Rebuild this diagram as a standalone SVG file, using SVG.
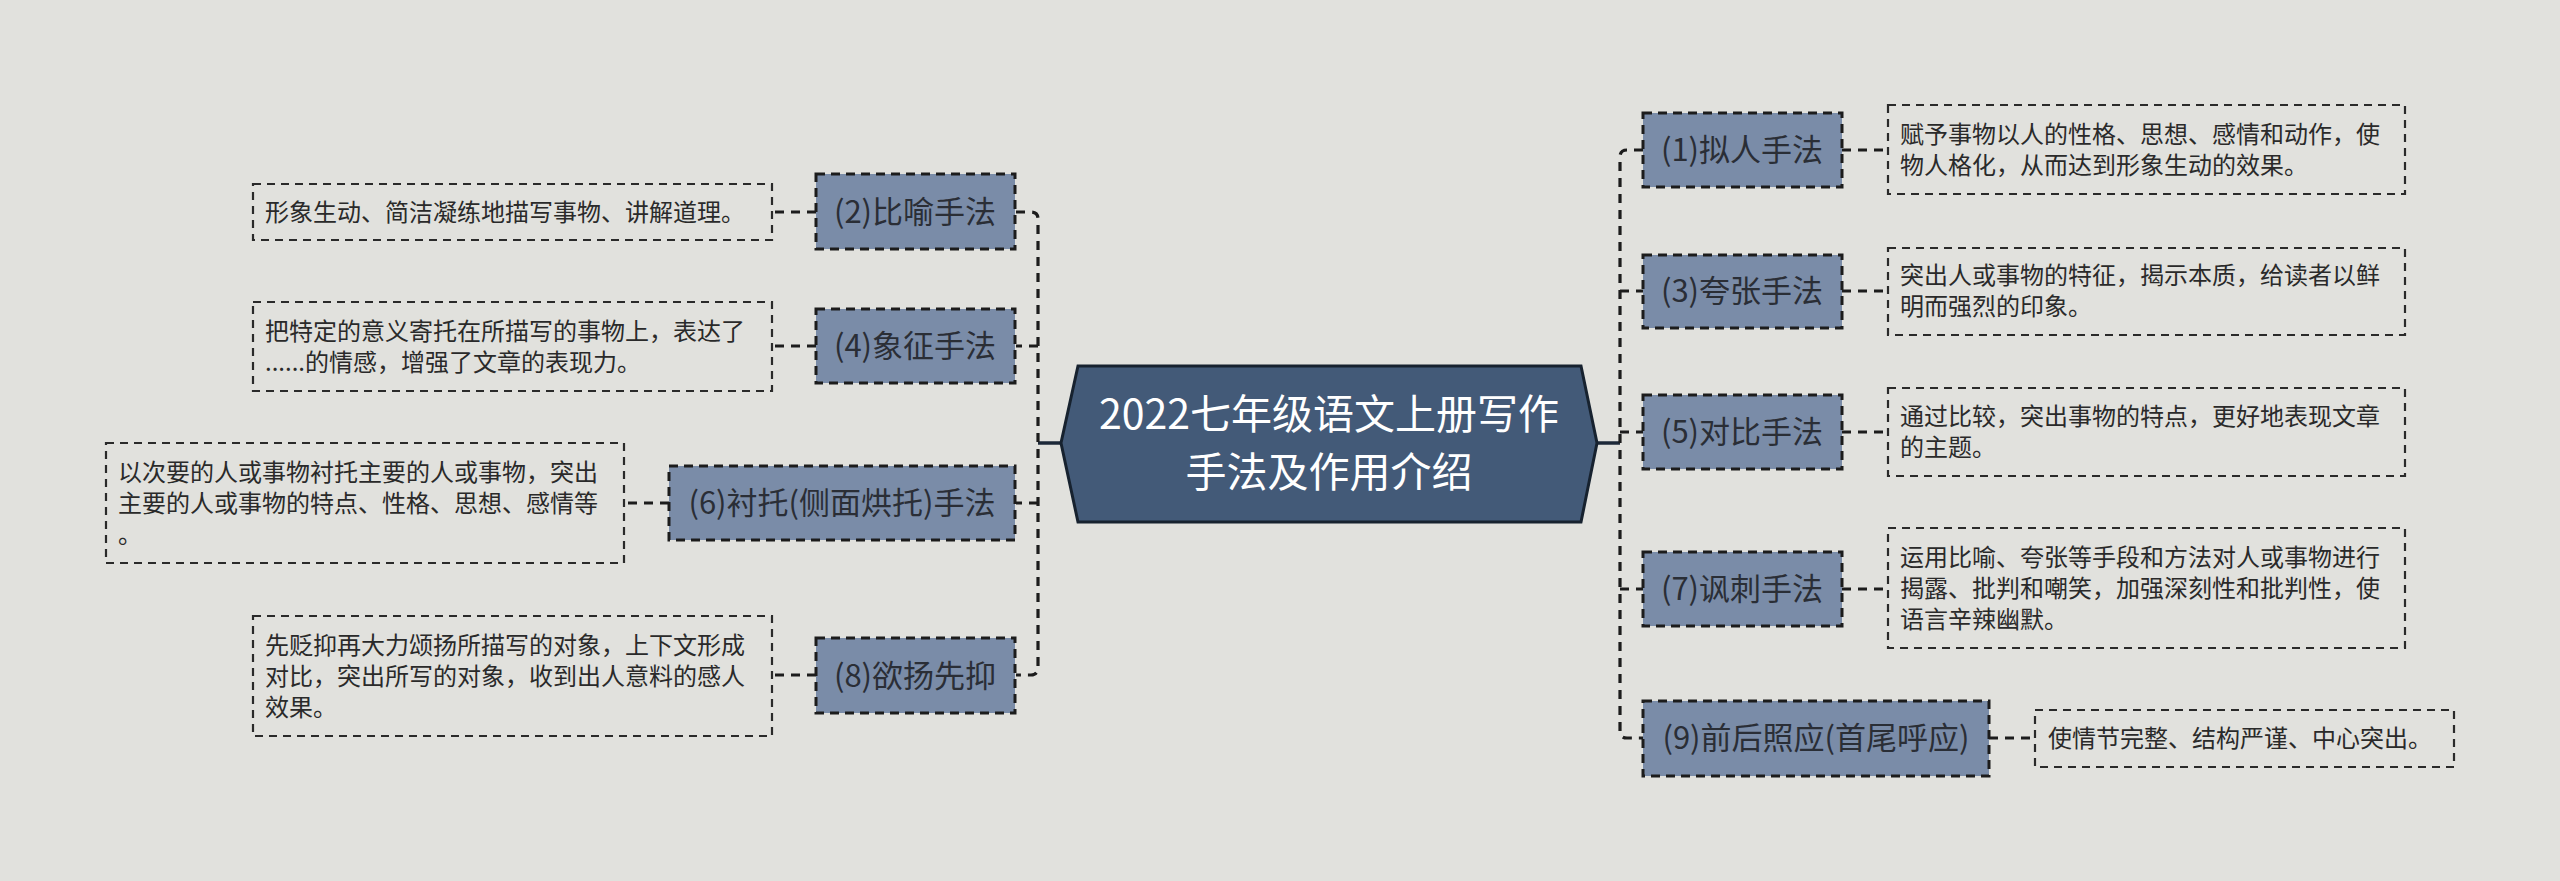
<svg xmlns="http://www.w3.org/2000/svg" width="2560" height="881" viewBox="0 0 2560 881">
<style>
.bg{fill:#e1e1dd}
.lbl{fill:#7a8ca8;stroke:#1c1c1c;stroke-width:3;stroke-dasharray:9 6}
.det{fill:none;stroke:#2a2a2a;stroke-width:2.2;stroke-dasharray:8 6}
.lt{font-family:"Noto Sans CJK SC","Noto Sans",sans-serif;font-size:31px;fill:#2a2e36;text-anchor:middle}
.dt{font-family:"Noto Sans CJK SC","Noto Sans",sans-serif;font-size:24px;fill:#2a2a2a}
.ct{font-family:"Noto Sans CJK SC","Noto Sans",sans-serif;font-size:41px;fill:#ffffff;text-anchor:middle}
.dash{fill:none;stroke:#1c1c1c;stroke-width:3.2;stroke-dasharray:9 7}
.solid{fill:none;stroke:#1c2838;stroke-width:3.5}
</style>
<rect class="bg" x="0" y="0" width="2560" height="881"/>
<g id="connectors">
<path class="solid" d="M1061 443 H1038"/>
<path class="solid" d="M1597 443 H1620"/>
<path class="dash" d="M1016 212 H1031 Q1038 212 1038 219 V667 Q1038 675 1031 675 H1016"/>
<path class="dash" d="M1038 346 H1016"/>
<path class="dash" d="M1038 503 H1016"/>
<path class="dash" d="M1643 150 H1627 Q1620 150 1620 157 V731 Q1620 738 1627 738 H1643"/>
<path class="dash" d="M1620 291 H1643"/>
<path class="dash" d="M1620 432 H1643"/>
<path class="dash" d="M1620 589 H1643"/>
<path class="dash" d="M1842 150 H1888"/>
<path class="dash" d="M1842 291 H1888"/>
<path class="dash" d="M1842 432 H1888"/>
<path class="dash" d="M1842 589 H1888"/>
<path class="dash" d="M1989 738 H2035"/>
<path class="dash" d="M816 212 H772"/>
<path class="dash" d="M816 346 H772"/>
<path class="dash" d="M669 503 H624"/>
<path class="dash" d="M816 675 H772"/>
</g>
<g id="center">
<polygon points="1078,366 1581,366 1597,443 1581,522 1078,522 1061,443" fill="#435a78" stroke="#17222f" stroke-width="3"/>
<text class="ct" x="1329" y="429">2022七年级语文上册写作</text>
<text class="ct" x="1329" y="487">手法及作用介绍</text>
</g>
<g id="n1">
<rect class="lbl" x="1643" y="113" width="199" height="74"/>
<text class="lt" x="1742" y="161">(1)拟人手法</text>
</g>
<g id="d1">
<rect class="det" x="1888" y="105" width="517" height="89"/>
<text class="dt" x="1900" y="143">赋予事物以人的性格、思想、感情和动作，使</text>
<text class="dt" x="1900" y="174">物人格化，从而达到形象生动的效果。</text>
</g>
<g id="n3">
<rect class="lbl" x="1643" y="255" width="199" height="73"/>
<text class="lt" x="1742" y="302">(3)夸张手法</text>
</g>
<g id="d3">
<rect class="det" x="1888" y="248" width="517" height="87"/>
<text class="dt" x="1900" y="284">突出人或事物的特征，揭示本质，给读者以鲜</text>
<text class="dt" x="1900" y="315">明而强烈的印象。</text>
</g>
<g id="n5">
<rect class="lbl" x="1643" y="395" width="199" height="74"/>
<text class="lt" x="1742" y="443">(5)对比手法</text>
</g>
<g id="d5">
<rect class="det" x="1888" y="388" width="517" height="88"/>
<text class="dt" x="1900" y="425">通过比较，突出事物的特点，更好地表现文章</text>
<text class="dt" x="1900" y="456">的主题。</text>
</g>
<g id="n7">
<rect class="lbl" x="1643" y="552" width="199" height="74"/>
<text class="lt" x="1742" y="600">(7)讽刺手法</text>
</g>
<g id="d7">
<rect class="det" x="1888" y="528" width="517" height="120"/>
<text class="dt" x="1900" y="566">运用比喻、夸张等手段和方法对人或事物进行</text>
<text class="dt" x="1900" y="597">揭露、批判和嘲笑，加强深刻性和批判性，使</text>
<text class="dt" x="1900" y="628">语言辛辣幽默。</text>
</g>
<g id="n9">
<rect class="lbl" x="1643" y="701" width="346" height="75"/>
<text class="lt" x="1816" y="749">(9)前后照应(首尾呼应)</text>
</g>
<g id="d9">
<rect class="det" x="2035" y="710" width="419" height="57"/>
<text class="dt" x="2048" y="747">使情节完整、结构严谨、中心突出。</text>
</g>
<g id="n2">
<rect class="lbl" x="816" y="174" width="199" height="75"/>
<text class="lt" x="915" y="223">(2)比喻手法</text>
</g>
<g id="d2">
<rect class="det" x="253" y="184" width="519" height="56"/>
<text class="dt" x="265" y="221">形象生动、简洁凝练地描写事物、讲解道理。</text>
</g>
<g id="n4">
<rect class="lbl" x="816" y="309" width="199" height="74"/>
<text class="lt" x="915" y="357">(4)象征手法</text>
</g>
<g id="d4">
<rect class="det" x="253" y="302" width="519" height="89"/>
<text class="dt" x="265" y="340">把特定的意义寄托在所描写的事物上，表达了</text>
<text class="dt" x="265" y="371">......的情感，增强了文章的表现力。</text>
</g>
<g id="n6">
<rect class="lbl" x="669" y="466" width="346" height="74"/>
<text class="lt" x="842" y="514">(6)衬托(侧面烘托)手法</text>
</g>
<g id="d6">
<rect class="det" x="106" y="443" width="518" height="120"/>
<text class="dt" x="118" y="481">以次要的人或事物衬托主要的人或事物，突出</text>
<text class="dt" x="118" y="512">主要的人或事物的特点、性格、思想、感情等</text>
<text class="dt" x="118" y="543">。</text>
</g>
<g id="n8">
<rect class="lbl" x="816" y="638" width="199" height="75"/>
<text class="lt" x="915" y="687">(8)欲扬先抑</text>
</g>
<g id="d8">
<rect class="det" x="253" y="616" width="519" height="120"/>
<text class="dt" x="265" y="654">先贬抑再大力颂扬所描写的对象，上下文形成</text>
<text class="dt" x="265" y="685">对比，突出所写的对象，收到出人意料的感人</text>
<text class="dt" x="265" y="716">效果。</text>
</g>
</svg>
